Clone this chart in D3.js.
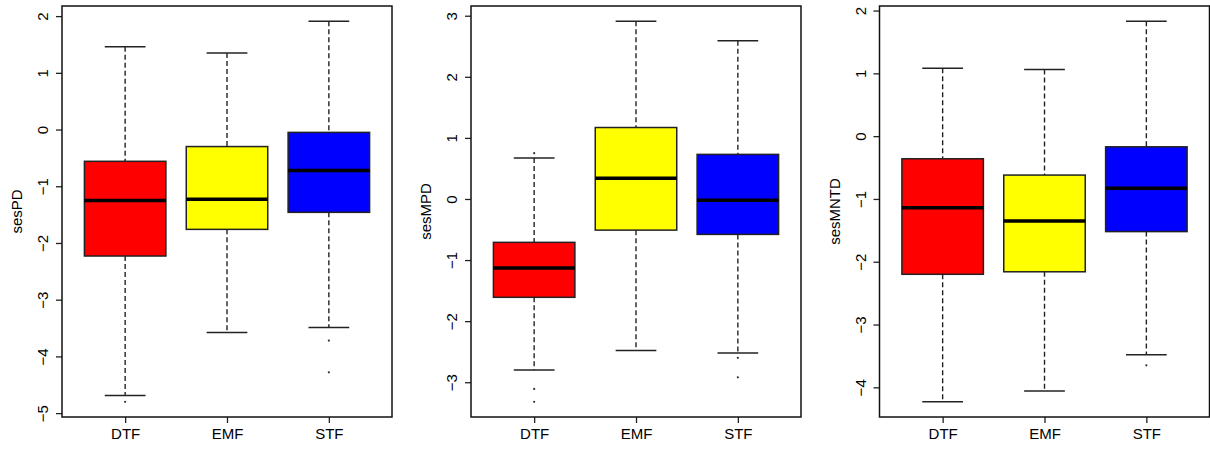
<!DOCTYPE html>
<html>
<head>
<meta charset="utf-8">
<script src="https://cdn.jsdelivr.net/npm/d3@7"></script>
<style>
  body { margin: 0; background: #fff; }
  text { font-family: "Liberation Sans", Arial, sans-serif; fill: #000; }
</style>
</head>
<body>
<script>
var groups = ["DTF", "EMF", "STF"];
var colors = ["#ff0000", "#ffff00", "#0000ff"];
var titles = ["sesPD", "sesMPD", "sesMNTD"];

// [lower whisker, Q1, median, Q3, upper whisker] per group
var sesPD = [[-4.69, -2.23, -1.25, -0.56, 1.46],
             [-3.58, -1.76, -1.23, -0.30, 1.35],
             [-3.49, -1.46, -0.72, -0.05, 1.91]];
var sesPDOut = [[-4.80], [], [-3.72, -4.28]];

var sesMPD = [[-2.80, -1.61, -1.13, -0.71, 0.67],
              [-2.48, -0.51, 0.34, 1.17, 2.91],
              [-2.52, -0.58, -0.02, 0.73, 2.59]];
var sesMPDOut = [[0.75, -3.11, -3.32], [], [-2.60, -2.92]];

var sesMNTD = [[-4.23, -2.20, -1.14, -0.36, 1.08],
               [-4.06, -2.16, -1.35, -0.62, 1.06],
               [-3.48, -1.52, -0.83, -0.17, 1.83]];
var sesMNTDOut = [[], [], [-3.65]];

var panels = [
  { stats: sesPD, out: sesPDOut, left: 62 },
  { stats: sesMPD, out: sesMPDOut, left: 471 },
  { stats: sesMNTD, out: sesMNTDOut, left: 879.5 }
];

var W = 1210, H = 450;
var pw = 330, plotTop = 6, plotBottom = 417;
var fs = "15px";

var svg = d3.select("body").append("svg")
  .attr("width", W)
  .attr("height", H);

panels.forEach(function(p, k) {
  var g = svg.append("g").attr("transform", "translate(" + p.left + ",0)");

  // range like R: data extremes padded by 4%
  var all = [];
  p.stats.forEach(function(s) { all = all.concat(s); });
  p.out.forEach(function(o) { all = all.concat(o); });
  var lo = d3.min(all), hi = d3.max(all), pad = (hi - lo) * 0.04;

  var y = d3.scaleLinear().domain([lo - pad, hi + pad]).range([plotBottom, plotTop]);
  var x = d3.scaleLinear().domain([0.38, 3.62]).range([0, pw]);

  var boxW = x(1.8) - x(1);
  var capW = boxW / 2;

  var yticks = d3.range(Math.ceil(lo - pad), Math.floor(hi + pad) + 1);
  var yAxis = g.append("g")
    .call(d3.axisLeft(y).tickValues(yticks).tickSize(6).tickFormat(d3.format("d")));
  yAxis.select(".domain").remove();
  yAxis.selectAll("line").attr("stroke", "#222").attr("stroke-width", 1.3);
  yAxis.selectAll("text")
    .attr("x", 0).attr("dy", 0)
    .attr("text-anchor", "middle")
    .attr("transform", "translate(-14,0) rotate(-90)")
    .style("font-size", fs)
    .style("font-family", "Liberation Sans, Arial, sans-serif");

  var xAxis = g.append("g")
    .attr("transform", "translate(0," + plotBottom + ")")
    .call(d3.axisBottom(x).tickValues([1, 2, 3]).tickSize(6)
      .tickFormat(function(d) { return groups[d - 1]; }));
  xAxis.select(".domain").remove();
  xAxis.selectAll("line").attr("stroke", "#222").attr("stroke-width", 1.3);
  xAxis.selectAll("text")
    .attr("y", 0).attr("dy", 0)
    .attr("transform", "translate(0,22)")
    .style("font-size", fs)
    .style("font-family", "Liberation Sans, Arial, sans-serif");

  g.append("text")
    .attr("transform", "translate(-40," + ((plotTop + plotBottom) / 2) + ") rotate(-90)")
    .attr("text-anchor", "middle")
    .style("font-size", fs)
    .text(titles[k]);

  var box = g.selectAll(".bx").data(p.stats).enter().append("g").attr("class", "bx");

  // whiskers
  box.append("line")
    .attr("x1", function(d, i) { return x(i + 1); })
    .attr("x2", function(d, i) { return x(i + 1); })
    .attr("y1", function(d) { return y(d[4]); })
    .attr("y2", function(d) { return y(d[3]); })
    .attr("stroke", "#222").attr("stroke-width", 1.4).attr("stroke-dasharray", "5,3");
  box.append("line")
    .attr("x1", function(d, i) { return x(i + 1); })
    .attr("x2", function(d, i) { return x(i + 1); })
    .attr("y1", function(d) { return y(d[1]); })
    .attr("y2", function(d) { return y(d[0]); })
    .attr("stroke", "#222").attr("stroke-width", 1.4).attr("stroke-dasharray", "5,3");

  // caps
  [0, 4].forEach(function(j) {
    box.append("line")
      .attr("x1", function(d, i) { return x(i + 1) - capW / 2; })
      .attr("x2", function(d, i) { return x(i + 1) + capW / 2; })
      .attr("y1", function(d) { return y(d[j]); })
      .attr("y2", function(d) { return y(d[j]); })
      .attr("stroke", "#222").attr("stroke-width", 1.5);
  });

  box.append("rect")
    .attr("x", function(d, i) { return x(i + 1) - boxW / 2; })
    .attr("y", function(d) { return y(d[3]); })
    .attr("width", boxW)
    .attr("height", function(d) { return y(d[1]) - y(d[3]); })
    .attr("fill", function(d, i) { return colors[i]; })
    .attr("stroke", "#222").attr("stroke-width", 1.5);

  box.append("line")
    .attr("x1", function(d, i) { return x(i + 1) - boxW / 2; })
    .attr("x2", function(d, i) { return x(i + 1) + boxW / 2; })
    .attr("y1", function(d) { return y(d[2]); })
    .attr("y2", function(d) { return y(d[2]); })
    .attr("stroke", "#000").attr("stroke-width", 3.5);

  // outliers
  p.out.forEach(function(o, i) {
    g.selectAll(null).data(o).enter().append("circle")
      .attr("cx", x(i + 1))
      .attr("cy", function(d) { return y(d); })
      .attr("r", 1.1)
      .attr("fill", "#333");
  });

  // frame
  g.append("rect")
    .attr("x", 0).attr("y", plotTop)
    .attr("width", pw).attr("height", plotBottom - plotTop)
    .attr("fill", "none").attr("stroke", "#111").attr("stroke-width", 1.5);
});
</script>
</body>
</html>
